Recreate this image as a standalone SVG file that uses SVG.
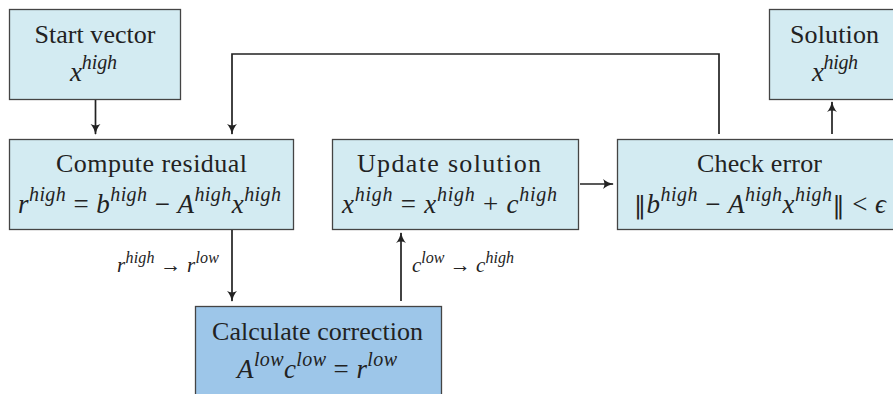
<svg xmlns="http://www.w3.org/2000/svg" width="893" height="394" viewBox="0 0 893 394">
<defs>
<marker id="arr" viewBox="0 0 10 10" refX="9" refY="5" markerWidth="11" markerHeight="11" markerUnits="userSpaceOnUse" orient="auto">
<path d="M0,0.5 Q4,4 10,5 Q4,6 0,9.5 Q2.5,5 0,0.5 Z" fill="#222"/>
</marker>
<style>
.box{fill:#d3ebf2;stroke:#444;stroke-width:1.3}
.dark{fill:#9dc6e9}
text{font-family:"Liberation Serif","Times New Roman",serif;fill:#222;font-size:26px;text-anchor:middle}
.eq{font-size:27px}
.i{font-style:italic}
.s{font-style:italic;font-size:20px}
.n{font-family:"DejaVu Serif",serif;font-size:24px}
.lbl{font-size:21px}
.lbl .s{font-size:16px}
.edge{fill:none;stroke:#222;stroke-width:1.7;marker-end:url(#arr)}
</style>
</defs>
<g id="start">
<rect class="box" x="9.5" y="9.5" width="171" height="90"/>
<text x="95" y="43" textLength="121" lengthAdjust="spacing">Start vector</text>
<text class="eq" x="93.5" y="81" textLength="47" lengthAdjust="spacing"><tspan class="i">x</tspan><tspan class="s" dy="-12">high</tspan></text>
</g>
<g id="solution">
<rect class="box" x="769.5" y="9.5" width="140" height="90"/>
<text x="834.5" y="43" textLength="89" lengthAdjust="spacing">Solution</text>
<text class="eq" x="835" y="81" textLength="46" lengthAdjust="spacing"><tspan class="i">x</tspan><tspan class="s" dy="-12">high</tspan></text>
</g>
<g id="compute">
<rect class="box" x="9.5" y="139.5" width="284" height="90"/>
<text x="151.5" y="172" textLength="191" lengthAdjust="spacing">Compute residual</text>
<text class="eq" x="149.5" y="213" textLength="263" lengthAdjust="spacing"><tspan class="i">r</tspan><tspan class="s" dy="-12">high</tspan><tspan dy="12"> = </tspan><tspan class="i">b</tspan><tspan class="s" dy="-12">high</tspan><tspan dy="12"> − </tspan><tspan class="i">A</tspan><tspan class="s" dy="-12">high</tspan><tspan class="i" dy="12">x</tspan><tspan class="s" dy="-12">high</tspan></text>
</g>
<g id="update">
<rect class="box" x="332.5" y="139.5" width="246" height="90"/>
<text x="449" y="172" textLength="184" lengthAdjust="spacing">Update solution</text>
<text class="eq" x="449.5" y="213" textLength="215" lengthAdjust="spacing"><tspan class="i">x</tspan><tspan class="s" dy="-12">high</tspan><tspan dy="12"> = </tspan><tspan class="i">x</tspan><tspan class="s" dy="-12">high</tspan><tspan dy="12"> + </tspan><tspan class="i">c</tspan><tspan class="s" dy="-12">high</tspan></text>
</g>
<g id="check">
<rect class="box" x="617.5" y="139.5" width="290" height="90"/>
<text x="759.5" y="172" textLength="125" lengthAdjust="spacing">Check error</text>
<text class="eq" x="760" y="213" textLength="252" lengthAdjust="spacing"><tspan class="n">‖</tspan><tspan class="i">b</tspan><tspan class="s" dy="-12">high</tspan><tspan dy="12"> − </tspan><tspan class="i">A</tspan><tspan class="s" dy="-12">high</tspan><tspan class="i" dy="12">x</tspan><tspan class="s" dy="-12">high</tspan><tspan class="n" dy="12">‖</tspan><tspan> &lt; </tspan><tspan class="i">ϵ</tspan></text>
</g>
<g id="calc">
<rect class="box dark" x="195.5" y="306.5" width="246" height="90"/>
<text x="317.5" y="340" textLength="211" lengthAdjust="spacing">Calculate correction</text>
<text class="eq" x="317" y="378" textLength="160" lengthAdjust="spacing"><tspan class="i">A</tspan><tspan class="s" dy="-12">low</tspan><tspan class="i" dy="12">c</tspan><tspan class="s" dy="-12">low</tspan><tspan dy="12"> = </tspan><tspan class="i">r</tspan><tspan class="s" dy="-12">low</tspan></text>
</g>
<g id="connectors">
<path class="edge" d="M95.5,100 V134"/>
<path class="edge" d="M719,134 V54 H232 V134"/>
<path class="edge" d="M232,230 V301"/>
<path class="edge" d="M401,301 V233"/>
<path class="edge" d="M580,184 H613"/>
<path class="edge" d="M832,134 V102"/>
<text class="lbl" x="168" y="272" textLength="102" lengthAdjust="spacing"><tspan class="i">r</tspan><tspan class="s" dy="-9">high</tspan><tspan dy="9"> → </tspan><tspan class="i">r</tspan><tspan class="s" dy="-9">low</tspan></text>
<text class="lbl" x="463" y="272" textLength="102" lengthAdjust="spacing"><tspan class="i">c</tspan><tspan class="s" dy="-9">low</tspan><tspan dy="9"> → </tspan><tspan class="i">c</tspan><tspan class="s" dy="-9">high</tspan></text>
</g>
</svg>
